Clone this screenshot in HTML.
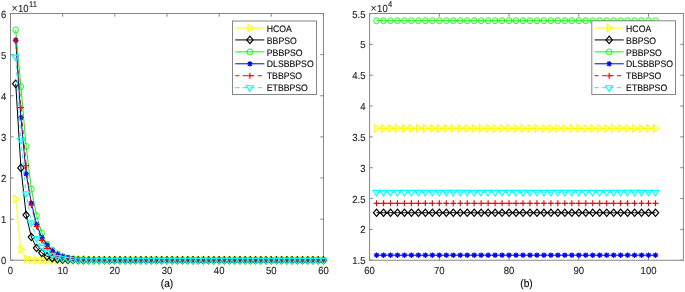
<!DOCTYPE html><html><head><meta charset="utf-8"><style>html,body{margin:0;padding:0;background:#fff;overflow:hidden}svg{display:block;text-rendering:geometricPrecision}text{stroke:#262626;stroke-width:0.12px}</style></head><body><svg width="685" height="292" viewBox="0 0 685 292" font-family="'Liberation Sans', Arial, sans-serif">
<rect width="685" height="292" fill="#fff"/>
<defs>
<clipPath id="cl"><rect x="10.5" y="13.5" width="312.95" height="246.75"/></clipPath>
<clipPath id="cr"><rect x="369.6" y="13.5" width="313.80" height="246.75"/></clipPath>
</defs><g>
<g stroke="#868686" stroke-width="1" fill="none">
<rect x="10.5" y="13.5" width="312.95" height="246.75"/>
<path d="M10.50 260.25v-3.2M10.50 13.5v3.2M62.66 260.25v-3.2M62.66 13.5v3.2M114.82 260.25v-3.2M114.82 13.5v3.2M166.97 260.25v-3.2M166.97 13.5v3.2M219.13 260.25v-3.2M219.13 13.5v3.2M271.29 260.25v-3.2M271.29 13.5v3.2M323.45 260.25v-3.2M323.45 13.5v3.2M10.5 260.25h3.2M323.45 260.25h-3.2M10.5 219.12h3.2M323.45 219.12h-3.2M10.5 178.00h3.2M323.45 178.00h-3.2M10.5 136.88h3.2M323.45 136.88h-3.2M10.5 95.75h3.2M323.45 95.75h-3.2M10.5 54.62h3.2M323.45 54.62h-3.2M10.5 13.50h3.2M323.45 13.50h-3.2"/>
</g>
<g fill="#262626" font-size="9.5px">
<text transform="translate(10.50 274.25) scale(1.0 1.08)" text-anchor="middle">0</text>
<text transform="translate(62.66 274.25) scale(1.0 1.08)" text-anchor="middle">10</text>
<text transform="translate(114.82 274.25) scale(1.0 1.08)" text-anchor="middle">20</text>
<text transform="translate(166.97 274.25) scale(1.0 1.08)" text-anchor="middle">30</text>
<text transform="translate(219.13 274.25) scale(1.0 1.08)" text-anchor="middle">40</text>
<text transform="translate(271.29 274.25) scale(1.0 1.08)" text-anchor="middle">50</text>
<text transform="translate(323.45 274.25) scale(1.0 1.08)" text-anchor="middle">60</text>
<text transform="translate(6.40 264.25) scale(1.0 1.08)" text-anchor="end">0</text>
<text transform="translate(6.40 223.12) scale(1.0 1.08)" text-anchor="end">1</text>
<text transform="translate(6.40 182.00) scale(1.0 1.08)" text-anchor="end">2</text>
<text transform="translate(6.40 140.88) scale(1.0 1.08)" text-anchor="end">3</text>
<text transform="translate(6.40 99.75) scale(1.0 1.08)" text-anchor="end">4</text>
<text transform="translate(6.40 58.62) scale(1.0 1.08)" text-anchor="end">5</text>
<text transform="translate(6.40 17.50) scale(1.0 1.08)" text-anchor="end">6</text>
</g>
<g stroke="#868686" stroke-width="1" fill="none">
<rect x="369.6" y="13.5" width="313.80" height="246.75"/>
<path d="M369.60 260.25v-3.2M369.60 13.5v3.2M439.33 260.25v-3.2M439.33 13.5v3.2M509.07 260.25v-3.2M509.07 13.5v3.2M578.80 260.25v-3.2M578.80 13.5v3.2M648.53 260.25v-3.2M648.53 13.5v3.2M369.6 260.25h3.2M683.4 260.25h-3.2M369.6 229.41h3.2M683.4 229.41h-3.2M369.6 198.56h3.2M683.4 198.56h-3.2M369.6 167.72h3.2M683.4 167.72h-3.2M369.6 136.88h3.2M683.4 136.88h-3.2M369.6 106.03h3.2M683.4 106.03h-3.2M369.6 75.19h3.2M683.4 75.19h-3.2M369.6 44.34h3.2M683.4 44.34h-3.2M369.6 13.50h3.2M683.4 13.50h-3.2"/>
</g>
<g fill="#262626" font-size="9.5px">
<text transform="translate(369.60 274.25) scale(1.0 1.08)" text-anchor="middle">60</text>
<text transform="translate(439.33 274.25) scale(1.0 1.08)" text-anchor="middle">70</text>
<text transform="translate(509.07 274.25) scale(1.0 1.08)" text-anchor="middle">80</text>
<text transform="translate(578.80 274.25) scale(1.0 1.08)" text-anchor="middle">90</text>
<text transform="translate(648.53 274.25) scale(1.0 1.08)" text-anchor="middle">100</text>
<text transform="translate(365.50 264.25) scale(1.0 1.08)" text-anchor="end">1.5</text>
<text transform="translate(365.50 233.41) scale(1.0 1.08)" text-anchor="end">2</text>
<text transform="translate(365.50 202.56) scale(1.0 1.08)" text-anchor="end">2.5</text>
<text transform="translate(365.50 171.72) scale(1.0 1.08)" text-anchor="end">3</text>
<text transform="translate(365.50 140.88) scale(1.0 1.08)" text-anchor="end">3.5</text>
<text transform="translate(365.50 110.03) scale(1.0 1.08)" text-anchor="end">4</text>
<text transform="translate(365.50 79.19) scale(1.0 1.08)" text-anchor="end">4.5</text>
<text transform="translate(365.50 48.34) scale(1.0 1.08)" text-anchor="end">5</text>
<text transform="translate(365.50 17.50) scale(1.0 1.08)" text-anchor="end">5.5</text>
</g>
<polyline points="15.72,198.97 20.93,249.56 26.15,258.61 31.36,259.84 36.58,260.13 41.80,260.18 47.01,260.21 52.23,260.22 57.44,260.23 62.66,260.24 67.87,260.24 73.09,260.25 78.31,260.25 83.52,260.25 88.74,260.25 93.95,260.25 99.17,260.25 104.38,260.25 109.60,260.25 114.82,260.25 120.03,260.25 125.25,260.25 130.46,260.25 135.68,260.25 140.90,260.25 146.11,260.25 151.33,260.25 156.54,260.25 161.76,260.25 166.97,260.25 172.19,260.25 177.41,260.25 182.62,260.25 187.84,260.25 193.05,260.25 198.27,260.25 203.49,260.25 208.70,260.25 213.92,260.25 219.13,260.25 224.35,260.25 229.56,260.25 234.78,260.25 240.00,260.25 245.21,260.25 250.43,260.25 255.64,260.25 260.86,260.25 266.08,260.25 271.29,260.25 276.51,260.25 281.72,260.25 286.94,260.25 292.15,260.25 297.37,260.25 302.59,260.25 307.80,260.25 313.02,260.25 318.23,260.25 323.45,260.25" fill="none" stroke="#ffff00" stroke-width="1.0" clip-path="url(#cl)"/>
<g fill="none" stroke="#ffff00" stroke-width="1.15">
<path d="M13.87 195.27L19.42 198.97L13.87 202.67Z"/>
<path d="M19.08 245.86L24.63 249.56L19.08 253.26Z"/>
<path d="M24.30 254.91L29.85 258.61L24.30 262.31Z"/>
<path d="M29.51 256.14L35.06 259.84L29.51 263.54Z"/>
<path d="M34.73 256.43L40.28 260.13L34.73 263.83Z"/>
<path d="M39.95 256.48L45.50 260.18L39.95 263.88Z"/>
<path d="M45.16 256.51L50.71 260.21L45.16 263.91Z"/>
<path d="M50.38 256.52L55.93 260.22L50.38 263.92Z"/>
<path d="M55.59 256.53L61.14 260.23L55.59 263.93Z"/>
<path d="M60.81 256.54L66.36 260.24L60.81 263.94Z"/>
<path d="M66.02 256.54L71.57 260.24L66.02 263.94Z"/>
<path d="M71.24 256.55L76.79 260.25L71.24 263.95Z"/>
<path d="M76.46 256.55L82.01 260.25L76.46 263.95Z"/>
<path d="M81.67 256.55L87.22 260.25L81.67 263.95Z"/>
<path d="M86.89 256.55L92.44 260.25L86.89 263.95Z"/>
<path d="M92.10 256.55L97.65 260.25L92.10 263.95Z"/>
<path d="M97.32 256.55L102.87 260.25L97.32 263.95Z"/>
<path d="M102.53 256.55L108.08 260.25L102.53 263.95Z"/>
<path d="M107.75 256.55L113.30 260.25L107.75 263.95Z"/>
<path d="M112.97 256.55L118.52 260.25L112.97 263.95Z"/>
<path d="M118.18 256.55L123.73 260.25L118.18 263.95Z"/>
<path d="M123.40 256.55L128.95 260.25L123.40 263.95Z"/>
<path d="M128.61 256.55L134.16 260.25L128.61 263.95Z"/>
<path d="M133.83 256.55L139.38 260.25L133.83 263.95Z"/>
<path d="M139.05 256.55L144.60 260.25L139.05 263.95Z"/>
<path d="M144.26 256.55L149.81 260.25L144.26 263.95Z"/>
<path d="M149.48 256.55L155.03 260.25L149.48 263.95Z"/>
<path d="M154.69 256.55L160.24 260.25L154.69 263.95Z"/>
<path d="M159.91 256.55L165.46 260.25L159.91 263.95Z"/>
<path d="M165.12 256.55L170.67 260.25L165.12 263.95Z"/>
<path d="M170.34 256.55L175.89 260.25L170.34 263.95Z"/>
<path d="M175.56 256.55L181.11 260.25L175.56 263.95Z"/>
<path d="M180.77 256.55L186.32 260.25L180.77 263.95Z"/>
<path d="M185.99 256.55L191.54 260.25L185.99 263.95Z"/>
<path d="M191.20 256.55L196.75 260.25L191.20 263.95Z"/>
<path d="M196.42 256.55L201.97 260.25L196.42 263.95Z"/>
<path d="M201.64 256.55L207.19 260.25L201.64 263.95Z"/>
<path d="M206.85 256.55L212.40 260.25L206.85 263.95Z"/>
<path d="M212.07 256.55L217.62 260.25L212.07 263.95Z"/>
<path d="M217.28 256.55L222.83 260.25L217.28 263.95Z"/>
<path d="M222.50 256.55L228.05 260.25L222.50 263.95Z"/>
<path d="M227.71 256.55L233.26 260.25L227.71 263.95Z"/>
<path d="M232.93 256.55L238.48 260.25L232.93 263.95Z"/>
<path d="M238.15 256.55L243.70 260.25L238.15 263.95Z"/>
<path d="M243.36 256.55L248.91 260.25L243.36 263.95Z"/>
<path d="M248.58 256.55L254.13 260.25L248.58 263.95Z"/>
<path d="M253.79 256.55L259.34 260.25L253.79 263.95Z"/>
<path d="M259.01 256.55L264.56 260.25L259.01 263.95Z"/>
<path d="M264.23 256.55L269.78 260.25L264.23 263.95Z"/>
<path d="M269.44 256.55L274.99 260.25L269.44 263.95Z"/>
<path d="M274.66 256.55L280.21 260.25L274.66 263.95Z"/>
<path d="M279.87 256.55L285.42 260.25L279.87 263.95Z"/>
<path d="M285.09 256.55L290.64 260.25L285.09 263.95Z"/>
<path d="M290.30 256.55L295.85 260.25L290.30 263.95Z"/>
<path d="M295.52 256.55L301.07 260.25L295.52 263.95Z"/>
<path d="M300.74 256.55L306.29 260.25L300.74 263.95Z"/>
<path d="M305.95 256.55L311.50 260.25L305.95 263.95Z"/>
<path d="M311.17 256.55L316.72 260.25L311.17 263.95Z"/>
<path d="M316.38 256.55L321.93 260.25L316.38 263.95Z"/>
<path d="M321.60 256.55L327.15 260.25L321.60 263.95Z"/>
</g>
<polyline points="15.72,83.82 20.93,167.92 26.15,215.01 31.36,237.01 36.58,248.04 41.80,252.85 47.01,256.34 52.23,258.19 57.44,259.18 62.66,259.67 67.87,259.90 73.09,260.04 78.31,260.13 83.52,260.18 88.74,260.21 93.95,260.22 99.17,260.23 104.38,260.24 109.60,260.24 114.82,260.25 120.03,260.25 125.25,260.25 130.46,260.25 135.68,260.25 140.90,260.25 146.11,260.25 151.33,260.25 156.54,260.25 161.76,260.25 166.97,260.25 172.19,260.25 177.41,260.25 182.62,260.25 187.84,260.25 193.05,260.25 198.27,260.25 203.49,260.25 208.70,260.25 213.92,260.25 219.13,260.25 224.35,260.25 229.56,260.25 234.78,260.25 240.00,260.25 245.21,260.25 250.43,260.25 255.64,260.25 260.86,260.25 266.08,260.25 271.29,260.25 276.51,260.25 281.72,260.25 286.94,260.25 292.15,260.25 297.37,260.25 302.59,260.25 307.80,260.25 313.02,260.25 318.23,260.25 323.45,260.25" fill="none" stroke="#000000" stroke-width="1.0" clip-path="url(#cl)"/>
<g fill="none" stroke="#000000" stroke-width="1.15">
<path d="M15.72 80.12L18.92 83.82L15.72 87.52L12.52 83.82Z"/>
<path d="M20.93 164.22L24.13 167.92L20.93 171.62L17.73 167.92Z"/>
<path d="M26.15 211.31L29.35 215.01L26.15 218.71L22.95 215.01Z"/>
<path d="M31.36 233.31L34.56 237.01L31.36 240.71L28.16 237.01Z"/>
<path d="M36.58 244.34L39.78 248.04L36.58 251.74L33.38 248.04Z"/>
<path d="M41.80 249.15L45.00 252.85L41.80 256.55L38.59 252.85Z"/>
<path d="M47.01 252.64L50.21 256.34L47.01 260.04L43.81 256.34Z"/>
<path d="M52.23 254.49L55.43 258.19L52.23 261.89L49.03 258.19Z"/>
<path d="M57.44 255.48L60.64 259.18L57.44 262.88L54.24 259.18Z"/>
<path d="M62.66 255.97L65.86 259.67L62.66 263.37L59.46 259.67Z"/>
<path d="M67.87 256.20L71.07 259.90L67.87 263.60L64.67 259.90Z"/>
<path d="M73.09 256.34L76.29 260.04L73.09 263.74L69.89 260.04Z"/>
<path d="M78.31 256.43L81.51 260.13L78.31 263.83L75.11 260.13Z"/>
<path d="M83.52 256.48L86.72 260.18L83.52 263.88L80.32 260.18Z"/>
<path d="M88.74 256.51L91.94 260.21L88.74 263.91L85.54 260.21Z"/>
<path d="M93.95 256.52L97.15 260.22L93.95 263.92L90.75 260.22Z"/>
<path d="M99.17 256.53L102.37 260.23L99.17 263.93L95.97 260.23Z"/>
<path d="M104.38 256.54L107.58 260.24L104.38 263.94L101.18 260.24Z"/>
<path d="M109.60 256.54L112.80 260.24L109.60 263.94L106.40 260.24Z"/>
<path d="M114.82 256.55L118.02 260.25L114.82 263.95L111.62 260.25Z"/>
<path d="M120.03 256.55L123.23 260.25L120.03 263.95L116.83 260.25Z"/>
<path d="M125.25 256.55L128.45 260.25L125.25 263.95L122.05 260.25Z"/>
<path d="M130.46 256.55L133.66 260.25L130.46 263.95L127.26 260.25Z"/>
<path d="M135.68 256.55L138.88 260.25L135.68 263.95L132.48 260.25Z"/>
<path d="M140.90 256.55L144.10 260.25L140.90 263.95L137.70 260.25Z"/>
<path d="M146.11 256.55L149.31 260.25L146.11 263.95L142.91 260.25Z"/>
<path d="M151.33 256.55L154.53 260.25L151.33 263.95L148.13 260.25Z"/>
<path d="M156.54 256.55L159.74 260.25L156.54 263.95L153.34 260.25Z"/>
<path d="M161.76 256.55L164.96 260.25L161.76 263.95L158.56 260.25Z"/>
<path d="M166.97 256.55L170.17 260.25L166.97 263.95L163.78 260.25Z"/>
<path d="M172.19 256.55L175.39 260.25L172.19 263.95L168.99 260.25Z"/>
<path d="M177.41 256.55L180.61 260.25L177.41 263.95L174.21 260.25Z"/>
<path d="M182.62 256.55L185.82 260.25L182.62 263.95L179.42 260.25Z"/>
<path d="M187.84 256.55L191.04 260.25L187.84 263.95L184.64 260.25Z"/>
<path d="M193.05 256.55L196.25 260.25L193.05 263.95L189.85 260.25Z"/>
<path d="M198.27 256.55L201.47 260.25L198.27 263.95L195.07 260.25Z"/>
<path d="M203.49 256.55L206.69 260.25L203.49 263.95L200.29 260.25Z"/>
<path d="M208.70 256.55L211.90 260.25L208.70 263.95L205.50 260.25Z"/>
<path d="M213.92 256.55L217.12 260.25L213.92 263.95L210.72 260.25Z"/>
<path d="M219.13 256.55L222.33 260.25L219.13 263.95L215.93 260.25Z"/>
<path d="M224.35 256.55L227.55 260.25L224.35 263.95L221.15 260.25Z"/>
<path d="M229.56 256.55L232.76 260.25L229.56 263.95L226.36 260.25Z"/>
<path d="M234.78 256.55L237.98 260.25L234.78 263.95L231.58 260.25Z"/>
<path d="M240.00 256.55L243.20 260.25L240.00 263.95L236.80 260.25Z"/>
<path d="M245.21 256.55L248.41 260.25L245.21 263.95L242.01 260.25Z"/>
<path d="M250.43 256.55L253.63 260.25L250.43 263.95L247.23 260.25Z"/>
<path d="M255.64 256.55L258.84 260.25L255.64 263.95L252.44 260.25Z"/>
<path d="M260.86 256.55L264.06 260.25L260.86 263.95L257.66 260.25Z"/>
<path d="M266.08 256.55L269.28 260.25L266.08 263.95L262.88 260.25Z"/>
<path d="M271.29 256.55L274.49 260.25L271.29 263.95L268.09 260.25Z"/>
<path d="M276.51 256.55L279.71 260.25L276.51 263.95L273.31 260.25Z"/>
<path d="M281.72 256.55L284.92 260.25L281.72 263.95L278.52 260.25Z"/>
<path d="M286.94 256.55L290.14 260.25L286.94 263.95L283.74 260.25Z"/>
<path d="M292.15 256.55L295.35 260.25L292.15 263.95L288.95 260.25Z"/>
<path d="M297.37 256.55L300.57 260.25L297.37 263.95L294.17 260.25Z"/>
<path d="M302.59 256.55L305.79 260.25L302.59 263.95L299.39 260.25Z"/>
<path d="M307.80 256.55L311.00 260.25L307.80 263.95L304.60 260.25Z"/>
<path d="M313.02 256.55L316.22 260.25L313.02 263.95L309.82 260.25Z"/>
<path d="M318.23 256.55L321.43 260.25L318.23 263.95L315.03 260.25Z"/>
<path d="M323.45 256.55L326.65 260.25L323.45 263.95L320.25 260.25Z"/>
</g>
<polyline points="15.72,29.95 20.93,86.70 26.15,146.33 31.36,189.10 36.58,215.63 41.80,232.90 47.01,244.21 52.23,249.97 57.44,253.88 62.66,256.55 67.87,257.99 73.09,259.02 78.31,259.51 83.52,259.81 88.74,259.98 93.95,260.09 99.17,260.15 104.38,260.19 109.60,260.22 114.82,260.23 120.03,260.24 125.25,260.24 130.46,260.25 135.68,260.25 140.90,260.25 146.11,260.25 151.33,260.25 156.54,260.25 161.76,260.25 166.97,260.25 172.19,260.25 177.41,260.25 182.62,260.25 187.84,260.25 193.05,260.25 198.27,260.25 203.49,260.25 208.70,260.25 213.92,260.25 219.13,260.25 224.35,260.25 229.56,260.25 234.78,260.25 240.00,260.25 245.21,260.25 250.43,260.25 255.64,260.25 260.86,260.25 266.08,260.25 271.29,260.25 276.51,260.25 281.72,260.25 286.94,260.25 292.15,260.25 297.37,260.25 302.59,260.25 307.80,260.25 313.02,260.25 318.23,260.25 323.45,260.25" fill="none" stroke="#00ff00" stroke-width="1.0" clip-path="url(#cl)"/>
<g fill="none" stroke="#00ff00" stroke-width="1.15">
<ellipse cx="15.72" cy="29.95" rx="2.8" ry="3.0" stroke-width="0.9"/>
<ellipse cx="20.93" cy="86.70" rx="2.8" ry="3.0" stroke-width="0.9"/>
<ellipse cx="26.15" cy="146.33" rx="2.8" ry="3.0" stroke-width="0.9"/>
<ellipse cx="31.36" cy="189.10" rx="2.8" ry="3.0" stroke-width="0.9"/>
<ellipse cx="36.58" cy="215.63" rx="2.8" ry="3.0" stroke-width="0.9"/>
<ellipse cx="41.80" cy="232.90" rx="2.8" ry="3.0" stroke-width="0.9"/>
<ellipse cx="47.01" cy="244.21" rx="2.8" ry="3.0" stroke-width="0.9"/>
<ellipse cx="52.23" cy="249.97" rx="2.8" ry="3.0" stroke-width="0.9"/>
<ellipse cx="57.44" cy="253.88" rx="2.8" ry="3.0" stroke-width="0.9"/>
<ellipse cx="62.66" cy="256.55" rx="2.8" ry="3.0" stroke-width="0.9"/>
<ellipse cx="67.87" cy="257.99" rx="2.8" ry="3.0" stroke-width="0.9"/>
<ellipse cx="73.09" cy="259.02" rx="2.8" ry="3.0" stroke-width="0.9"/>
<ellipse cx="78.31" cy="259.51" rx="2.8" ry="3.0" stroke-width="0.9"/>
<ellipse cx="83.52" cy="259.81" rx="2.8" ry="3.0" stroke-width="0.9"/>
<ellipse cx="88.74" cy="259.98" rx="2.8" ry="3.0" stroke-width="0.9"/>
<ellipse cx="93.95" cy="260.09" rx="2.8" ry="3.0" stroke-width="0.9"/>
<ellipse cx="99.17" cy="260.15" rx="2.8" ry="3.0" stroke-width="0.9"/>
<ellipse cx="104.38" cy="260.19" rx="2.8" ry="3.0" stroke-width="0.9"/>
<ellipse cx="109.60" cy="260.22" rx="2.8" ry="3.0" stroke-width="0.9"/>
<ellipse cx="114.82" cy="260.23" rx="2.8" ry="3.0" stroke-width="0.9"/>
<ellipse cx="120.03" cy="260.24" rx="2.8" ry="3.0" stroke-width="0.9"/>
<ellipse cx="125.25" cy="260.24" rx="2.8" ry="3.0" stroke-width="0.9"/>
<ellipse cx="130.46" cy="260.25" rx="2.8" ry="3.0" stroke-width="0.9"/>
<ellipse cx="135.68" cy="260.25" rx="2.8" ry="3.0" stroke-width="0.9"/>
<ellipse cx="140.90" cy="260.25" rx="2.8" ry="3.0" stroke-width="0.9"/>
<ellipse cx="146.11" cy="260.25" rx="2.8" ry="3.0" stroke-width="0.9"/>
<ellipse cx="151.33" cy="260.25" rx="2.8" ry="3.0" stroke-width="0.9"/>
<ellipse cx="156.54" cy="260.25" rx="2.8" ry="3.0" stroke-width="0.9"/>
<ellipse cx="161.76" cy="260.25" rx="2.8" ry="3.0" stroke-width="0.9"/>
<ellipse cx="166.97" cy="260.25" rx="2.8" ry="3.0" stroke-width="0.9"/>
<ellipse cx="172.19" cy="260.25" rx="2.8" ry="3.0" stroke-width="0.9"/>
<ellipse cx="177.41" cy="260.25" rx="2.8" ry="3.0" stroke-width="0.9"/>
<ellipse cx="182.62" cy="260.25" rx="2.8" ry="3.0" stroke-width="0.9"/>
<ellipse cx="187.84" cy="260.25" rx="2.8" ry="3.0" stroke-width="0.9"/>
<ellipse cx="193.05" cy="260.25" rx="2.8" ry="3.0" stroke-width="0.9"/>
<ellipse cx="198.27" cy="260.25" rx="2.8" ry="3.0" stroke-width="0.9"/>
<ellipse cx="203.49" cy="260.25" rx="2.8" ry="3.0" stroke-width="0.9"/>
<ellipse cx="208.70" cy="260.25" rx="2.8" ry="3.0" stroke-width="0.9"/>
<ellipse cx="213.92" cy="260.25" rx="2.8" ry="3.0" stroke-width="0.9"/>
<ellipse cx="219.13" cy="260.25" rx="2.8" ry="3.0" stroke-width="0.9"/>
<ellipse cx="224.35" cy="260.25" rx="2.8" ry="3.0" stroke-width="0.9"/>
<ellipse cx="229.56" cy="260.25" rx="2.8" ry="3.0" stroke-width="0.9"/>
<ellipse cx="234.78" cy="260.25" rx="2.8" ry="3.0" stroke-width="0.9"/>
<ellipse cx="240.00" cy="260.25" rx="2.8" ry="3.0" stroke-width="0.9"/>
<ellipse cx="245.21" cy="260.25" rx="2.8" ry="3.0" stroke-width="0.9"/>
<ellipse cx="250.43" cy="260.25" rx="2.8" ry="3.0" stroke-width="0.9"/>
<ellipse cx="255.64" cy="260.25" rx="2.8" ry="3.0" stroke-width="0.9"/>
<ellipse cx="260.86" cy="260.25" rx="2.8" ry="3.0" stroke-width="0.9"/>
<ellipse cx="266.08" cy="260.25" rx="2.8" ry="3.0" stroke-width="0.9"/>
<ellipse cx="271.29" cy="260.25" rx="2.8" ry="3.0" stroke-width="0.9"/>
<ellipse cx="276.51" cy="260.25" rx="2.8" ry="3.0" stroke-width="0.9"/>
<ellipse cx="281.72" cy="260.25" rx="2.8" ry="3.0" stroke-width="0.9"/>
<ellipse cx="286.94" cy="260.25" rx="2.8" ry="3.0" stroke-width="0.9"/>
<ellipse cx="292.15" cy="260.25" rx="2.8" ry="3.0" stroke-width="0.9"/>
<ellipse cx="297.37" cy="260.25" rx="2.8" ry="3.0" stroke-width="0.9"/>
<ellipse cx="302.59" cy="260.25" rx="2.8" ry="3.0" stroke-width="0.9"/>
<ellipse cx="307.80" cy="260.25" rx="2.8" ry="3.0" stroke-width="0.9"/>
<ellipse cx="313.02" cy="260.25" rx="2.8" ry="3.0" stroke-width="0.9"/>
<ellipse cx="318.23" cy="260.25" rx="2.8" ry="3.0" stroke-width="0.9"/>
<ellipse cx="323.45" cy="260.25" rx="2.8" ry="3.0" stroke-width="0.9"/>
</g>
<polyline points="15.72,40.23 20.93,117.55 26.15,173.89 31.36,203.09 36.58,224.47 41.80,237.63 47.01,244.83 52.23,250.59 57.44,254.08 62.66,256.34 67.87,257.78 73.09,258.81 78.31,259.43 83.52,259.76 88.74,259.95 93.95,260.07 99.17,260.14 104.38,260.19 109.60,260.21 114.82,260.23 120.03,260.24 125.25,260.24 130.46,260.25 135.68,260.25 140.90,260.25 146.11,260.25 151.33,260.25 156.54,260.25 161.76,260.25 166.97,260.25 172.19,260.25 177.41,260.25 182.62,260.25 187.84,260.25 193.05,260.25 198.27,260.25 203.49,260.25 208.70,260.25 213.92,260.25 219.13,260.25 224.35,260.25 229.56,260.25 234.78,260.25 240.00,260.25 245.21,260.25 250.43,260.25 255.64,260.25 260.86,260.25 266.08,260.25 271.29,260.25 276.51,260.25 281.72,260.25 286.94,260.25 292.15,260.25 297.37,260.25 302.59,260.25 307.80,260.25 313.02,260.25 318.23,260.25 323.45,260.25" fill="none" stroke="#0000ff" stroke-width="1.0" clip-path="url(#cl)"/>
<g fill="none" stroke="#0000ff" stroke-width="1.15">
<path d="M13.02 40.23H18.42M15.72 37.53V42.93M13.72 38.23L17.72 42.23M13.72 42.23L17.72 38.23"/>
<path d="M18.23 117.55H23.63M20.93 114.85V120.25M18.93 115.55L22.93 119.55M18.93 119.55L22.93 115.55"/>
<path d="M23.45 173.89H28.85M26.15 171.19V176.59M24.15 171.89L28.15 175.89M24.15 175.89L28.15 171.89"/>
<path d="M28.66 203.09H34.06M31.36 200.39V205.79M29.36 201.09L33.36 205.09M29.36 205.09L33.36 201.09"/>
<path d="M33.88 224.47H39.28M36.58 221.77V227.17M34.58 222.47L38.58 226.47M34.58 226.47L38.58 222.47"/>
<path d="M39.09 237.63H44.50M41.80 234.93V240.33M39.80 235.63L43.80 239.63M39.80 239.63L43.80 235.63"/>
<path d="M44.31 244.83H49.71M47.01 242.13V247.53M45.01 242.83L49.01 246.83M45.01 246.83L49.01 242.83"/>
<path d="M49.53 250.59H54.93M52.23 247.89V253.29M50.23 248.59L54.23 252.59M50.23 252.59L54.23 248.59"/>
<path d="M54.74 254.08H60.14M57.44 251.38V256.78M55.44 252.08L59.44 256.08M55.44 256.08L59.44 252.08"/>
<path d="M59.96 256.34H65.36M62.66 253.64V259.04M60.66 254.34L64.66 258.34M60.66 258.34L64.66 254.34"/>
<path d="M65.17 257.78H70.57M67.87 255.08V260.48M65.87 255.78L69.87 259.78M65.87 259.78L69.87 255.78"/>
<path d="M70.39 258.81H75.79M73.09 256.11V261.51M71.09 256.81L75.09 260.81M71.09 260.81L75.09 256.81"/>
<path d="M75.61 259.43H81.01M78.31 256.73V262.13M76.31 257.43L80.31 261.43M76.31 261.43L80.31 257.43"/>
<path d="M80.82 259.76H86.22M83.52 257.06V262.46M81.52 257.76L85.52 261.76M81.52 261.76L85.52 257.76"/>
<path d="M86.04 259.95H91.44M88.74 257.25V262.65M86.74 257.95L90.74 261.95M86.74 261.95L90.74 257.95"/>
<path d="M91.25 260.07H96.65M93.95 257.37V262.77M91.95 258.07L95.95 262.07M91.95 262.07L95.95 258.07"/>
<path d="M96.47 260.14H101.87M99.17 257.44V262.84M97.17 258.14L101.17 262.14M97.17 262.14L101.17 258.14"/>
<path d="M101.68 260.19H107.08M104.38 257.49V262.89M102.38 258.19L106.38 262.19M102.38 262.19L106.38 258.19"/>
<path d="M106.90 260.21H112.30M109.60 257.51V262.91M107.60 258.21L111.60 262.21M107.60 262.21L111.60 258.21"/>
<path d="M112.12 260.23H117.52M114.82 257.53V262.93M112.82 258.23L116.82 262.23M112.82 262.23L116.82 258.23"/>
<path d="M117.33 260.24H122.73M120.03 257.54V262.94M118.03 258.24L122.03 262.24M118.03 262.24L122.03 258.24"/>
<path d="M122.55 260.24H127.95M125.25 257.54V262.94M123.25 258.24L127.25 262.24M123.25 262.24L127.25 258.24"/>
<path d="M127.76 260.25H133.16M130.46 257.55V262.95M128.46 258.25L132.46 262.25M128.46 262.25L132.46 258.25"/>
<path d="M132.98 260.25H138.38M135.68 257.55V262.95M133.68 258.25L137.68 262.25M133.68 262.25L137.68 258.25"/>
<path d="M138.20 260.25H143.60M140.90 257.55V262.95M138.90 258.25L142.90 262.25M138.90 262.25L142.90 258.25"/>
<path d="M143.41 260.25H148.81M146.11 257.55V262.95M144.11 258.25L148.11 262.25M144.11 262.25L148.11 258.25"/>
<path d="M148.63 260.25H154.03M151.33 257.55V262.95M149.33 258.25L153.33 262.25M149.33 262.25L153.33 258.25"/>
<path d="M153.84 260.25H159.24M156.54 257.55V262.95M154.54 258.25L158.54 262.25M154.54 262.25L158.54 258.25"/>
<path d="M159.06 260.25H164.46M161.76 257.55V262.95M159.76 258.25L163.76 262.25M159.76 262.25L163.76 258.25"/>
<path d="M164.28 260.25H169.67M166.97 257.55V262.95M164.97 258.25L168.97 262.25M164.97 262.25L168.97 258.25"/>
<path d="M169.49 260.25H174.89M172.19 257.55V262.95M170.19 258.25L174.19 262.25M170.19 262.25L174.19 258.25"/>
<path d="M174.71 260.25H180.11M177.41 257.55V262.95M175.41 258.25L179.41 262.25M175.41 262.25L179.41 258.25"/>
<path d="M179.92 260.25H185.32M182.62 257.55V262.95M180.62 258.25L184.62 262.25M180.62 262.25L184.62 258.25"/>
<path d="M185.14 260.25H190.54M187.84 257.55V262.95M185.84 258.25L189.84 262.25M185.84 262.25L189.84 258.25"/>
<path d="M190.35 260.25H195.75M193.05 257.55V262.95M191.05 258.25L195.05 262.25M191.05 262.25L195.05 258.25"/>
<path d="M195.57 260.25H200.97M198.27 257.55V262.95M196.27 258.25L200.27 262.25M196.27 262.25L200.27 258.25"/>
<path d="M200.79 260.25H206.19M203.49 257.55V262.95M201.49 258.25L205.49 262.25M201.49 262.25L205.49 258.25"/>
<path d="M206.00 260.25H211.40M208.70 257.55V262.95M206.70 258.25L210.70 262.25M206.70 262.25L210.70 258.25"/>
<path d="M211.22 260.25H216.62M213.92 257.55V262.95M211.92 258.25L215.92 262.25M211.92 262.25L215.92 258.25"/>
<path d="M216.43 260.25H221.83M219.13 257.55V262.95M217.13 258.25L221.13 262.25M217.13 262.25L221.13 258.25"/>
<path d="M221.65 260.25H227.05M224.35 257.55V262.95M222.35 258.25L226.35 262.25M222.35 262.25L226.35 258.25"/>
<path d="M226.86 260.25H232.26M229.56 257.55V262.95M227.56 258.25L231.56 262.25M227.56 262.25L231.56 258.25"/>
<path d="M232.08 260.25H237.48M234.78 257.55V262.95M232.78 258.25L236.78 262.25M232.78 262.25L236.78 258.25"/>
<path d="M237.30 260.25H242.70M240.00 257.55V262.95M238.00 258.25L242.00 262.25M238.00 262.25L242.00 258.25"/>
<path d="M242.51 260.25H247.91M245.21 257.55V262.95M243.21 258.25L247.21 262.25M243.21 262.25L247.21 258.25"/>
<path d="M247.73 260.25H253.13M250.43 257.55V262.95M248.43 258.25L252.43 262.25M248.43 262.25L252.43 258.25"/>
<path d="M252.94 260.25H258.34M255.64 257.55V262.95M253.64 258.25L257.64 262.25M253.64 262.25L257.64 258.25"/>
<path d="M258.16 260.25H263.56M260.86 257.55V262.95M258.86 258.25L262.86 262.25M258.86 262.25L262.86 258.25"/>
<path d="M263.38 260.25H268.78M266.08 257.55V262.95M264.08 258.25L268.08 262.25M264.08 262.25L268.08 258.25"/>
<path d="M268.59 260.25H273.99M271.29 257.55V262.95M269.29 258.25L273.29 262.25M269.29 262.25L273.29 258.25"/>
<path d="M273.81 260.25H279.21M276.51 257.55V262.95M274.51 258.25L278.51 262.25M274.51 262.25L278.51 258.25"/>
<path d="M279.02 260.25H284.42M281.72 257.55V262.95M279.72 258.25L283.72 262.25M279.72 262.25L283.72 258.25"/>
<path d="M284.24 260.25H289.64M286.94 257.55V262.95M284.94 258.25L288.94 262.25M284.94 262.25L288.94 258.25"/>
<path d="M289.45 260.25H294.85M292.15 257.55V262.95M290.15 258.25L294.15 262.25M290.15 262.25L294.15 258.25"/>
<path d="M294.67 260.25H300.07M297.37 257.55V262.95M295.37 258.25L299.37 262.25M295.37 262.25L299.37 258.25"/>
<path d="M299.89 260.25H305.29M302.59 257.55V262.95M300.59 258.25L304.59 262.25M300.59 262.25L304.59 258.25"/>
<path d="M305.10 260.25H310.50M307.80 257.55V262.95M305.80 258.25L309.80 262.25M305.80 262.25L309.80 258.25"/>
<path d="M310.32 260.25H315.72M313.02 257.55V262.95M311.02 258.25L315.02 262.25M311.02 262.25L315.02 258.25"/>
<path d="M315.53 260.25H320.93M318.23 257.55V262.95M316.23 258.25L320.23 262.25M316.23 262.25L320.23 258.25"/>
<path d="M320.75 260.25H326.15M323.45 257.55V262.95M321.45 258.25L325.45 262.25M321.45 262.25L325.45 258.25"/>
</g>
<polyline points="15.72,40.23 20.93,107.68 26.15,165.66 31.36,205.14 36.58,226.53 41.80,240.51 47.01,248.32 52.23,253.26 57.44,256.14 62.66,257.78 67.87,258.81 73.09,259.39 78.31,259.73 83.52,259.94 88.74,260.06 93.95,260.14 99.17,260.18 104.38,260.21 109.60,260.23 114.82,260.24 120.03,260.24 125.25,260.24 130.46,260.25 135.68,260.25 140.90,260.25 146.11,260.25 151.33,260.25 156.54,260.25 161.76,260.25 166.97,260.25 172.19,260.25 177.41,260.25 182.62,260.25 187.84,260.25 193.05,260.25 198.27,260.25 203.49,260.25 208.70,260.25 213.92,260.25 219.13,260.25 224.35,260.25 229.56,260.25 234.78,260.25 240.00,260.25 245.21,260.25 250.43,260.25 255.64,260.25 260.86,260.25 266.08,260.25 271.29,260.25 276.51,260.25 281.72,260.25 286.94,260.25 292.15,260.25 297.37,260.25 302.59,260.25 307.80,260.25 313.02,260.25 318.23,260.25 323.45,260.25" fill="none" stroke="#ff0000" stroke-width="1.0" stroke-dasharray="4.1 3.4" clip-path="url(#cl)"/>
<g fill="none" stroke="#ff0000" stroke-width="1.15">
<path d="M12.72 40.23H18.72M15.72 37.23V43.23"/>
<path d="M17.93 107.68H23.93M20.93 104.68V110.68"/>
<path d="M23.15 165.66H29.15M26.15 162.66V168.66"/>
<path d="M28.36 205.14H34.36M31.36 202.14V208.14"/>
<path d="M33.58 226.53H39.58M36.58 223.53V229.53"/>
<path d="M38.80 240.51H44.80M41.80 237.51V243.51"/>
<path d="M44.01 248.32H50.01M47.01 245.32V251.32"/>
<path d="M49.23 253.26H55.23M52.23 250.26V256.26"/>
<path d="M54.44 256.14H60.44M57.44 253.14V259.14"/>
<path d="M59.66 257.78H65.66M62.66 254.78V260.78"/>
<path d="M64.87 258.81H70.87M67.87 255.81V261.81"/>
<path d="M70.09 259.39H76.09M73.09 256.39V262.39"/>
<path d="M75.31 259.73H81.31M78.31 256.73V262.73"/>
<path d="M80.52 259.94H86.52M83.52 256.94V262.94"/>
<path d="M85.74 260.06H91.74M88.74 257.06V263.06"/>
<path d="M90.95 260.14H96.95M93.95 257.14V263.14"/>
<path d="M96.17 260.18H102.17M99.17 257.18V263.18"/>
<path d="M101.38 260.21H107.38M104.38 257.21V263.21"/>
<path d="M106.60 260.23H112.60M109.60 257.23V263.23"/>
<path d="M111.82 260.24H117.82M114.82 257.24V263.24"/>
<path d="M117.03 260.24H123.03M120.03 257.24V263.24"/>
<path d="M122.25 260.24H128.25M125.25 257.24V263.24"/>
<path d="M127.46 260.25H133.46M130.46 257.25V263.25"/>
<path d="M132.68 260.25H138.68M135.68 257.25V263.25"/>
<path d="M137.90 260.25H143.90M140.90 257.25V263.25"/>
<path d="M143.11 260.25H149.11M146.11 257.25V263.25"/>
<path d="M148.33 260.25H154.33M151.33 257.25V263.25"/>
<path d="M153.54 260.25H159.54M156.54 257.25V263.25"/>
<path d="M158.76 260.25H164.76M161.76 257.25V263.25"/>
<path d="M163.97 260.25H169.97M166.97 257.25V263.25"/>
<path d="M169.19 260.25H175.19M172.19 257.25V263.25"/>
<path d="M174.41 260.25H180.41M177.41 257.25V263.25"/>
<path d="M179.62 260.25H185.62M182.62 257.25V263.25"/>
<path d="M184.84 260.25H190.84M187.84 257.25V263.25"/>
<path d="M190.05 260.25H196.05M193.05 257.25V263.25"/>
<path d="M195.27 260.25H201.27M198.27 257.25V263.25"/>
<path d="M200.49 260.25H206.49M203.49 257.25V263.25"/>
<path d="M205.70 260.25H211.70M208.70 257.25V263.25"/>
<path d="M210.92 260.25H216.92M213.92 257.25V263.25"/>
<path d="M216.13 260.25H222.13M219.13 257.25V263.25"/>
<path d="M221.35 260.25H227.35M224.35 257.25V263.25"/>
<path d="M226.56 260.25H232.56M229.56 257.25V263.25"/>
<path d="M231.78 260.25H237.78M234.78 257.25V263.25"/>
<path d="M237.00 260.25H243.00M240.00 257.25V263.25"/>
<path d="M242.21 260.25H248.21M245.21 257.25V263.25"/>
<path d="M247.43 260.25H253.43M250.43 257.25V263.25"/>
<path d="M252.64 260.25H258.64M255.64 257.25V263.25"/>
<path d="M257.86 260.25H263.86M260.86 257.25V263.25"/>
<path d="M263.08 260.25H269.08M266.08 257.25V263.25"/>
<path d="M268.29 260.25H274.29M271.29 257.25V263.25"/>
<path d="M273.51 260.25H279.51M276.51 257.25V263.25"/>
<path d="M278.72 260.25H284.72M281.72 257.25V263.25"/>
<path d="M283.94 260.25H289.94M286.94 257.25V263.25"/>
<path d="M289.15 260.25H295.15M292.15 257.25V263.25"/>
<path d="M294.37 260.25H300.37M297.37 257.25V263.25"/>
<path d="M299.59 260.25H305.59M302.59 257.25V263.25"/>
<path d="M304.80 260.25H310.80M307.80 257.25V263.25"/>
<path d="M310.02 260.25H316.02M313.02 257.25V263.25"/>
<path d="M315.23 260.25H321.23M318.23 257.25V263.25"/>
<path d="M320.45 260.25H326.45M323.45 257.25V263.25"/>
</g>
<polyline points="15.72,57.09 20.93,140.17 26.15,193.63 31.36,222.83 36.58,238.45 41.80,247.09 47.01,252.03 52.23,255.31 57.44,257.37 62.66,258.61 67.87,259.22 73.09,259.63 78.31,259.88 83.52,260.03 88.74,260.12 93.95,260.17 99.17,260.20 104.38,260.22 109.60,260.23 114.82,260.24 120.03,260.24 125.25,260.25 130.46,260.25 135.68,260.25 140.90,260.25 146.11,260.25 151.33,260.25 156.54,260.25 161.76,260.25 166.97,260.25 172.19,260.25 177.41,260.25 182.62,260.25 187.84,260.25 193.05,260.25 198.27,260.25 203.49,260.25 208.70,260.25 213.92,260.25 219.13,260.25 224.35,260.25 229.56,260.25 234.78,260.25 240.00,260.25 245.21,260.25 250.43,260.25 255.64,260.25 260.86,260.25 266.08,260.25 271.29,260.25 276.51,260.25 281.72,260.25 286.94,260.25 292.15,260.25 297.37,260.25 302.59,260.25 307.80,260.25 313.02,260.25 318.23,260.25 323.45,260.25" fill="none" stroke="#00ffff" stroke-width="1.0" stroke-dasharray="4.1 3.4" clip-path="url(#cl)"/>
<g fill="none" stroke="#00ffff" stroke-width="1.15">
<path d="M12.22 55.19L19.22 55.19L15.72 60.79Z"/>
<path d="M17.43 138.27L24.43 138.27L20.93 143.87Z"/>
<path d="M22.65 191.73L29.65 191.73L26.15 197.33Z"/>
<path d="M27.86 220.93L34.86 220.93L31.36 226.53Z"/>
<path d="M33.08 236.55L40.08 236.55L36.58 242.15Z"/>
<path d="M38.30 245.19L45.30 245.19L41.80 250.79Z"/>
<path d="M43.51 250.12L50.51 250.12L47.01 255.72Z"/>
<path d="M48.73 253.41L55.73 253.41L52.23 259.01Z"/>
<path d="M53.94 255.47L60.94 255.47L57.44 261.07Z"/>
<path d="M59.16 256.71L66.16 256.71L62.66 262.31Z"/>
<path d="M64.37 257.32L71.37 257.32L67.87 262.92Z"/>
<path d="M69.59 257.73L76.59 257.73L73.09 263.33Z"/>
<path d="M74.81 257.98L81.81 257.98L78.31 263.58Z"/>
<path d="M80.02 258.13L87.02 258.13L83.52 263.73Z"/>
<path d="M85.24 258.22L92.24 258.22L88.74 263.82Z"/>
<path d="M90.45 258.27L97.45 258.27L93.95 263.87Z"/>
<path d="M95.67 258.30L102.67 258.30L99.17 263.90Z"/>
<path d="M100.88 258.32L107.88 258.32L104.38 263.92Z"/>
<path d="M106.10 258.33L113.10 258.33L109.60 263.93Z"/>
<path d="M111.32 258.34L118.32 258.34L114.82 263.94Z"/>
<path d="M116.53 258.34L123.53 258.34L120.03 263.94Z"/>
<path d="M121.75 258.35L128.75 258.35L125.25 263.95Z"/>
<path d="M126.96 258.35L133.96 258.35L130.46 263.95Z"/>
<path d="M132.18 258.35L139.18 258.35L135.68 263.95Z"/>
<path d="M137.40 258.35L144.40 258.35L140.90 263.95Z"/>
<path d="M142.61 258.35L149.61 258.35L146.11 263.95Z"/>
<path d="M147.83 258.35L154.83 258.35L151.33 263.95Z"/>
<path d="M153.04 258.35L160.04 258.35L156.54 263.95Z"/>
<path d="M158.26 258.35L165.26 258.35L161.76 263.95Z"/>
<path d="M163.47 258.35L170.47 258.35L166.97 263.95Z"/>
<path d="M168.69 258.35L175.69 258.35L172.19 263.95Z"/>
<path d="M173.91 258.35L180.91 258.35L177.41 263.95Z"/>
<path d="M179.12 258.35L186.12 258.35L182.62 263.95Z"/>
<path d="M184.34 258.35L191.34 258.35L187.84 263.95Z"/>
<path d="M189.55 258.35L196.55 258.35L193.05 263.95Z"/>
<path d="M194.77 258.35L201.77 258.35L198.27 263.95Z"/>
<path d="M199.99 258.35L206.99 258.35L203.49 263.95Z"/>
<path d="M205.20 258.35L212.20 258.35L208.70 263.95Z"/>
<path d="M210.42 258.35L217.42 258.35L213.92 263.95Z"/>
<path d="M215.63 258.35L222.63 258.35L219.13 263.95Z"/>
<path d="M220.85 258.35L227.85 258.35L224.35 263.95Z"/>
<path d="M226.06 258.35L233.06 258.35L229.56 263.95Z"/>
<path d="M231.28 258.35L238.28 258.35L234.78 263.95Z"/>
<path d="M236.50 258.35L243.50 258.35L240.00 263.95Z"/>
<path d="M241.71 258.35L248.71 258.35L245.21 263.95Z"/>
<path d="M246.93 258.35L253.93 258.35L250.43 263.95Z"/>
<path d="M252.14 258.35L259.14 258.35L255.64 263.95Z"/>
<path d="M257.36 258.35L264.36 258.35L260.86 263.95Z"/>
<path d="M262.58 258.35L269.58 258.35L266.08 263.95Z"/>
<path d="M267.79 258.35L274.79 258.35L271.29 263.95Z"/>
<path d="M273.01 258.35L280.01 258.35L276.51 263.95Z"/>
<path d="M278.22 258.35L285.22 258.35L281.72 263.95Z"/>
<path d="M283.44 258.35L290.44 258.35L286.94 263.95Z"/>
<path d="M288.65 258.35L295.65 258.35L292.15 263.95Z"/>
<path d="M293.87 258.35L300.87 258.35L297.37 263.95Z"/>
<path d="M299.09 258.35L306.09 258.35L302.59 263.95Z"/>
<path d="M304.30 258.35L311.30 258.35L307.80 263.95Z"/>
<path d="M309.52 258.35L316.52 258.35L313.02 263.95Z"/>
<path d="M314.73 258.35L321.73 258.35L318.23 263.95Z"/>
<path d="M319.95 258.35L326.95 258.35L323.45 263.95Z"/>
</g>
<polyline points="376.57,128.36 383.55,128.36 390.52,128.36 397.49,128.36 404.47,128.36 411.44,128.36 418.41,128.36 425.39,128.36 432.36,128.36 439.33,128.36 446.31,128.36 453.28,128.36 460.25,128.36 467.23,128.36 474.20,128.36 481.17,128.36 488.15,128.36 495.12,128.36 502.09,128.36 509.07,128.36 516.04,128.36 523.01,128.36 529.99,128.36 536.96,128.36 543.93,128.36 550.91,128.36 557.88,128.36 564.85,128.36 571.83,128.36 578.80,128.36 585.77,128.36 592.75,128.36 599.72,128.36 606.69,128.36 613.67,128.36 620.64,128.36 627.61,128.36 634.59,128.36 641.56,128.36 648.53,128.36 655.51,128.36" fill="none" stroke="#ffff00" stroke-width="1.0" clip-path="url(#cr)"/>
<g fill="none" stroke="#ffff00" stroke-width="1.15">
<path d="M374.72 124.66L380.27 128.36L374.72 132.06Z"/>
<path d="M381.70 124.66L387.25 128.36L381.70 132.06Z"/>
<path d="M388.67 124.66L394.22 128.36L388.67 132.06Z"/>
<path d="M395.64 124.66L401.19 128.36L395.64 132.06Z"/>
<path d="M402.62 124.66L408.17 128.36L402.62 132.06Z"/>
<path d="M409.59 124.66L415.14 128.36L409.59 132.06Z"/>
<path d="M416.56 124.66L422.11 128.36L416.56 132.06Z"/>
<path d="M423.54 124.66L429.09 128.36L423.54 132.06Z"/>
<path d="M430.51 124.66L436.06 128.36L430.51 132.06Z"/>
<path d="M437.48 124.66L443.03 128.36L437.48 132.06Z"/>
<path d="M444.46 124.66L450.01 128.36L444.46 132.06Z"/>
<path d="M451.43 124.66L456.98 128.36L451.43 132.06Z"/>
<path d="M458.40 124.66L463.95 128.36L458.40 132.06Z"/>
<path d="M465.38 124.66L470.93 128.36L465.38 132.06Z"/>
<path d="M472.35 124.66L477.90 128.36L472.35 132.06Z"/>
<path d="M479.32 124.66L484.87 128.36L479.32 132.06Z"/>
<path d="M486.30 124.66L491.85 128.36L486.30 132.06Z"/>
<path d="M493.27 124.66L498.82 128.36L493.27 132.06Z"/>
<path d="M500.24 124.66L505.79 128.36L500.24 132.06Z"/>
<path d="M507.22 124.66L512.77 128.36L507.22 132.06Z"/>
<path d="M514.19 124.66L519.74 128.36L514.19 132.06Z"/>
<path d="M521.16 124.66L526.71 128.36L521.16 132.06Z"/>
<path d="M528.14 124.66L533.69 128.36L528.14 132.06Z"/>
<path d="M535.11 124.66L540.66 128.36L535.11 132.06Z"/>
<path d="M542.08 124.66L547.63 128.36L542.08 132.06Z"/>
<path d="M549.06 124.66L554.61 128.36L549.06 132.06Z"/>
<path d="M556.03 124.66L561.58 128.36L556.03 132.06Z"/>
<path d="M563.00 124.66L568.55 128.36L563.00 132.06Z"/>
<path d="M569.98 124.66L575.53 128.36L569.98 132.06Z"/>
<path d="M576.95 124.66L582.50 128.36L576.95 132.06Z"/>
<path d="M583.92 124.66L589.47 128.36L583.92 132.06Z"/>
<path d="M590.90 124.66L596.45 128.36L590.90 132.06Z"/>
<path d="M597.87 124.66L603.42 128.36L597.87 132.06Z"/>
<path d="M604.84 124.66L610.39 128.36L604.84 132.06Z"/>
<path d="M611.82 124.66L617.37 128.36L611.82 132.06Z"/>
<path d="M618.79 124.66L624.34 128.36L618.79 132.06Z"/>
<path d="M625.76 124.66L631.31 128.36L625.76 132.06Z"/>
<path d="M632.74 124.66L638.29 128.36L632.74 132.06Z"/>
<path d="M639.71 124.66L645.26 128.36L639.71 132.06Z"/>
<path d="M646.68 124.66L652.23 128.36L646.68 132.06Z"/>
<path d="M653.66 124.66L659.21 128.36L653.66 132.06Z"/>
</g>
<polyline points="376.57,212.75 383.55,212.75 390.52,212.75 397.49,212.75 404.47,212.75 411.44,212.75 418.41,212.75 425.39,212.75 432.36,212.75 439.33,212.75 446.31,212.75 453.28,212.75 460.25,212.75 467.23,212.75 474.20,212.75 481.17,212.75 488.15,212.75 495.12,212.75 502.09,212.75 509.07,212.75 516.04,212.75 523.01,212.75 529.99,212.75 536.96,212.75 543.93,212.75 550.91,212.75 557.88,212.75 564.85,212.75 571.83,212.75 578.80,212.75 585.77,212.75 592.75,212.75 599.72,212.75 606.69,212.75 613.67,212.75 620.64,212.75 627.61,212.75 634.59,212.75 641.56,212.75 648.53,212.75 655.51,212.75" fill="none" stroke="#000000" stroke-width="1.0" clip-path="url(#cr)"/>
<g fill="none" stroke="#000000" stroke-width="1.15">
<path d="M376.57 209.05L379.77 212.75L376.57 216.45L373.37 212.75Z"/>
<path d="M383.55 209.05L386.75 212.75L383.55 216.45L380.35 212.75Z"/>
<path d="M390.52 209.05L393.72 212.75L390.52 216.45L387.32 212.75Z"/>
<path d="M397.49 209.05L400.69 212.75L397.49 216.45L394.29 212.75Z"/>
<path d="M404.47 209.05L407.67 212.75L404.47 216.45L401.27 212.75Z"/>
<path d="M411.44 209.05L414.64 212.75L411.44 216.45L408.24 212.75Z"/>
<path d="M418.41 209.05L421.61 212.75L418.41 216.45L415.21 212.75Z"/>
<path d="M425.39 209.05L428.59 212.75L425.39 216.45L422.19 212.75Z"/>
<path d="M432.36 209.05L435.56 212.75L432.36 216.45L429.16 212.75Z"/>
<path d="M439.33 209.05L442.53 212.75L439.33 216.45L436.13 212.75Z"/>
<path d="M446.31 209.05L449.51 212.75L446.31 216.45L443.11 212.75Z"/>
<path d="M453.28 209.05L456.48 212.75L453.28 216.45L450.08 212.75Z"/>
<path d="M460.25 209.05L463.45 212.75L460.25 216.45L457.05 212.75Z"/>
<path d="M467.23 209.05L470.43 212.75L467.23 216.45L464.03 212.75Z"/>
<path d="M474.20 209.05L477.40 212.75L474.20 216.45L471.00 212.75Z"/>
<path d="M481.17 209.05L484.37 212.75L481.17 216.45L477.97 212.75Z"/>
<path d="M488.15 209.05L491.35 212.75L488.15 216.45L484.95 212.75Z"/>
<path d="M495.12 209.05L498.32 212.75L495.12 216.45L491.92 212.75Z"/>
<path d="M502.09 209.05L505.29 212.75L502.09 216.45L498.89 212.75Z"/>
<path d="M509.07 209.05L512.27 212.75L509.07 216.45L505.87 212.75Z"/>
<path d="M516.04 209.05L519.24 212.75L516.04 216.45L512.84 212.75Z"/>
<path d="M523.01 209.05L526.21 212.75L523.01 216.45L519.81 212.75Z"/>
<path d="M529.99 209.05L533.19 212.75L529.99 216.45L526.79 212.75Z"/>
<path d="M536.96 209.05L540.16 212.75L536.96 216.45L533.76 212.75Z"/>
<path d="M543.93 209.05L547.13 212.75L543.93 216.45L540.73 212.75Z"/>
<path d="M550.91 209.05L554.11 212.75L550.91 216.45L547.71 212.75Z"/>
<path d="M557.88 209.05L561.08 212.75L557.88 216.45L554.68 212.75Z"/>
<path d="M564.85 209.05L568.05 212.75L564.85 216.45L561.65 212.75Z"/>
<path d="M571.83 209.05L575.03 212.75L571.83 216.45L568.63 212.75Z"/>
<path d="M578.80 209.05L582.00 212.75L578.80 216.45L575.60 212.75Z"/>
<path d="M585.77 209.05L588.97 212.75L585.77 216.45L582.57 212.75Z"/>
<path d="M592.75 209.05L595.95 212.75L592.75 216.45L589.55 212.75Z"/>
<path d="M599.72 209.05L602.92 212.75L599.72 216.45L596.52 212.75Z"/>
<path d="M606.69 209.05L609.89 212.75L606.69 216.45L603.49 212.75Z"/>
<path d="M613.67 209.05L616.87 212.75L613.67 216.45L610.47 212.75Z"/>
<path d="M620.64 209.05L623.84 212.75L620.64 216.45L617.44 212.75Z"/>
<path d="M627.61 209.05L630.81 212.75L627.61 216.45L624.41 212.75Z"/>
<path d="M634.59 209.05L637.79 212.75L634.59 216.45L631.39 212.75Z"/>
<path d="M641.56 209.05L644.76 212.75L641.56 216.45L638.36 212.75Z"/>
<path d="M648.53 209.05L651.73 212.75L648.53 216.45L645.33 212.75Z"/>
<path d="M655.51 209.05L658.71 212.75L655.51 216.45L652.31 212.75Z"/>
</g>
<polyline points="376.57,20.72 383.55,20.72 390.52,20.72 397.49,20.72 404.47,20.72 411.44,20.72 418.41,20.72 425.39,20.72 432.36,20.72 439.33,20.72 446.31,20.72 453.28,20.72 460.25,20.72 467.23,20.72 474.20,20.72 481.17,20.72 488.15,20.72 495.12,20.72 502.09,20.72 509.07,20.72 516.04,20.72 523.01,20.72 529.99,20.72 536.96,20.72 543.93,20.72 550.91,20.72 557.88,20.72 564.85,20.72 571.83,20.72 578.80,20.72 585.77,20.72 592.75,20.72 599.72,20.72 606.69,20.72 613.67,20.72 620.64,20.72 627.61,20.72 634.59,20.72 641.56,20.72 648.53,20.72 655.51,20.72" fill="none" stroke="#00ff00" stroke-width="1.0" clip-path="url(#cr)"/>
<g fill="none" stroke="#00ff00" stroke-width="1.15">
<ellipse cx="376.57" cy="20.72" rx="2.8" ry="3.0" stroke-width="0.9"/>
<ellipse cx="383.55" cy="20.72" rx="2.8" ry="3.0" stroke-width="0.9"/>
<ellipse cx="390.52" cy="20.72" rx="2.8" ry="3.0" stroke-width="0.9"/>
<ellipse cx="397.49" cy="20.72" rx="2.8" ry="3.0" stroke-width="0.9"/>
<ellipse cx="404.47" cy="20.72" rx="2.8" ry="3.0" stroke-width="0.9"/>
<ellipse cx="411.44" cy="20.72" rx="2.8" ry="3.0" stroke-width="0.9"/>
<ellipse cx="418.41" cy="20.72" rx="2.8" ry="3.0" stroke-width="0.9"/>
<ellipse cx="425.39" cy="20.72" rx="2.8" ry="3.0" stroke-width="0.9"/>
<ellipse cx="432.36" cy="20.72" rx="2.8" ry="3.0" stroke-width="0.9"/>
<ellipse cx="439.33" cy="20.72" rx="2.8" ry="3.0" stroke-width="0.9"/>
<ellipse cx="446.31" cy="20.72" rx="2.8" ry="3.0" stroke-width="0.9"/>
<ellipse cx="453.28" cy="20.72" rx="2.8" ry="3.0" stroke-width="0.9"/>
<ellipse cx="460.25" cy="20.72" rx="2.8" ry="3.0" stroke-width="0.9"/>
<ellipse cx="467.23" cy="20.72" rx="2.8" ry="3.0" stroke-width="0.9"/>
<ellipse cx="474.20" cy="20.72" rx="2.8" ry="3.0" stroke-width="0.9"/>
<ellipse cx="481.17" cy="20.72" rx="2.8" ry="3.0" stroke-width="0.9"/>
<ellipse cx="488.15" cy="20.72" rx="2.8" ry="3.0" stroke-width="0.9"/>
<ellipse cx="495.12" cy="20.72" rx="2.8" ry="3.0" stroke-width="0.9"/>
<ellipse cx="502.09" cy="20.72" rx="2.8" ry="3.0" stroke-width="0.9"/>
<ellipse cx="509.07" cy="20.72" rx="2.8" ry="3.0" stroke-width="0.9"/>
<ellipse cx="516.04" cy="20.72" rx="2.8" ry="3.0" stroke-width="0.9"/>
<ellipse cx="523.01" cy="20.72" rx="2.8" ry="3.0" stroke-width="0.9"/>
<ellipse cx="529.99" cy="20.72" rx="2.8" ry="3.0" stroke-width="0.9"/>
<ellipse cx="536.96" cy="20.72" rx="2.8" ry="3.0" stroke-width="0.9"/>
<ellipse cx="543.93" cy="20.72" rx="2.8" ry="3.0" stroke-width="0.9"/>
<ellipse cx="550.91" cy="20.72" rx="2.8" ry="3.0" stroke-width="0.9"/>
<ellipse cx="557.88" cy="20.72" rx="2.8" ry="3.0" stroke-width="0.9"/>
<ellipse cx="564.85" cy="20.72" rx="2.8" ry="3.0" stroke-width="0.9"/>
<ellipse cx="571.83" cy="20.72" rx="2.8" ry="3.0" stroke-width="0.9"/>
<ellipse cx="578.80" cy="20.72" rx="2.8" ry="3.0" stroke-width="0.9"/>
<ellipse cx="585.77" cy="20.72" rx="2.8" ry="3.0" stroke-width="0.9"/>
<ellipse cx="592.75" cy="20.72" rx="2.8" ry="3.0" stroke-width="0.9"/>
<ellipse cx="599.72" cy="20.72" rx="2.8" ry="3.0" stroke-width="0.9"/>
<ellipse cx="606.69" cy="20.72" rx="2.8" ry="3.0" stroke-width="0.9"/>
<ellipse cx="613.67" cy="20.72" rx="2.8" ry="3.0" stroke-width="0.9"/>
<ellipse cx="620.64" cy="20.72" rx="2.8" ry="3.0" stroke-width="0.9"/>
<ellipse cx="627.61" cy="20.72" rx="2.8" ry="3.0" stroke-width="0.9"/>
<ellipse cx="634.59" cy="20.72" rx="2.8" ry="3.0" stroke-width="0.9"/>
<ellipse cx="641.56" cy="20.72" rx="2.8" ry="3.0" stroke-width="0.9"/>
<ellipse cx="648.53" cy="20.72" rx="2.8" ry="3.0" stroke-width="0.9"/>
<ellipse cx="655.51" cy="20.72" rx="2.8" ry="3.0" stroke-width="0.9"/>
</g>
<polyline points="376.57,255.19 383.55,255.19 390.52,255.19 397.49,255.19 404.47,255.19 411.44,255.19 418.41,255.19 425.39,255.19 432.36,255.19 439.33,255.19 446.31,255.19 453.28,255.19 460.25,255.19 467.23,255.19 474.20,255.19 481.17,255.19 488.15,255.19 495.12,255.19 502.09,255.19 509.07,255.19 516.04,255.19 523.01,255.19 529.99,255.19 536.96,255.19 543.93,255.19 550.91,255.19 557.88,255.19 564.85,255.19 571.83,255.19 578.80,255.19 585.77,255.19 592.75,255.19 599.72,255.19 606.69,255.19 613.67,255.19 620.64,255.19 627.61,255.19 634.59,255.19 641.56,255.19 648.53,255.19 655.51,255.19" fill="none" stroke="#0000ff" stroke-width="1.0" clip-path="url(#cr)"/>
<g fill="none" stroke="#0000ff" stroke-width="1.15">
<path d="M373.87 255.19H379.27M376.57 252.49V257.89M374.57 253.19L378.57 257.19M374.57 257.19L378.57 253.19"/>
<path d="M380.85 255.19H386.25M383.55 252.49V257.89M381.55 253.19L385.55 257.19M381.55 257.19L385.55 253.19"/>
<path d="M387.82 255.19H393.22M390.52 252.49V257.89M388.52 253.19L392.52 257.19M388.52 257.19L392.52 253.19"/>
<path d="M394.79 255.19H400.19M397.49 252.49V257.89M395.49 253.19L399.49 257.19M395.49 257.19L399.49 253.19"/>
<path d="M401.77 255.19H407.17M404.47 252.49V257.89M402.47 253.19L406.47 257.19M402.47 257.19L406.47 253.19"/>
<path d="M408.74 255.19H414.14M411.44 252.49V257.89M409.44 253.19L413.44 257.19M409.44 257.19L413.44 253.19"/>
<path d="M415.71 255.19H421.11M418.41 252.49V257.89M416.41 253.19L420.41 257.19M416.41 257.19L420.41 253.19"/>
<path d="M422.69 255.19H428.09M425.39 252.49V257.89M423.39 253.19L427.39 257.19M423.39 257.19L427.39 253.19"/>
<path d="M429.66 255.19H435.06M432.36 252.49V257.89M430.36 253.19L434.36 257.19M430.36 257.19L434.36 253.19"/>
<path d="M436.63 255.19H442.03M439.33 252.49V257.89M437.33 253.19L441.33 257.19M437.33 257.19L441.33 253.19"/>
<path d="M443.61 255.19H449.01M446.31 252.49V257.89M444.31 253.19L448.31 257.19M444.31 257.19L448.31 253.19"/>
<path d="M450.58 255.19H455.98M453.28 252.49V257.89M451.28 253.19L455.28 257.19M451.28 257.19L455.28 253.19"/>
<path d="M457.55 255.19H462.95M460.25 252.49V257.89M458.25 253.19L462.25 257.19M458.25 257.19L462.25 253.19"/>
<path d="M464.53 255.19H469.93M467.23 252.49V257.89M465.23 253.19L469.23 257.19M465.23 257.19L469.23 253.19"/>
<path d="M471.50 255.19H476.90M474.20 252.49V257.89M472.20 253.19L476.20 257.19M472.20 257.19L476.20 253.19"/>
<path d="M478.47 255.19H483.87M481.17 252.49V257.89M479.17 253.19L483.17 257.19M479.17 257.19L483.17 253.19"/>
<path d="M485.45 255.19H490.85M488.15 252.49V257.89M486.15 253.19L490.15 257.19M486.15 257.19L490.15 253.19"/>
<path d="M492.42 255.19H497.82M495.12 252.49V257.89M493.12 253.19L497.12 257.19M493.12 257.19L497.12 253.19"/>
<path d="M499.39 255.19H504.79M502.09 252.49V257.89M500.09 253.19L504.09 257.19M500.09 257.19L504.09 253.19"/>
<path d="M506.37 255.19H511.77M509.07 252.49V257.89M507.07 253.19L511.07 257.19M507.07 257.19L511.07 253.19"/>
<path d="M513.34 255.19H518.74M516.04 252.49V257.89M514.04 253.19L518.04 257.19M514.04 257.19L518.04 253.19"/>
<path d="M520.31 255.19H525.71M523.01 252.49V257.89M521.01 253.19L525.01 257.19M521.01 257.19L525.01 253.19"/>
<path d="M527.29 255.19H532.69M529.99 252.49V257.89M527.99 253.19L531.99 257.19M527.99 257.19L531.99 253.19"/>
<path d="M534.26 255.19H539.66M536.96 252.49V257.89M534.96 253.19L538.96 257.19M534.96 257.19L538.96 253.19"/>
<path d="M541.23 255.19H546.63M543.93 252.49V257.89M541.93 253.19L545.93 257.19M541.93 257.19L545.93 253.19"/>
<path d="M548.21 255.19H553.61M550.91 252.49V257.89M548.91 253.19L552.91 257.19M548.91 257.19L552.91 253.19"/>
<path d="M555.18 255.19H560.58M557.88 252.49V257.89M555.88 253.19L559.88 257.19M555.88 257.19L559.88 253.19"/>
<path d="M562.15 255.19H567.55M564.85 252.49V257.89M562.85 253.19L566.85 257.19M562.85 257.19L566.85 253.19"/>
<path d="M569.13 255.19H574.53M571.83 252.49V257.89M569.83 253.19L573.83 257.19M569.83 257.19L573.83 253.19"/>
<path d="M576.10 255.19H581.50M578.80 252.49V257.89M576.80 253.19L580.80 257.19M576.80 257.19L580.80 253.19"/>
<path d="M583.07 255.19H588.47M585.77 252.49V257.89M583.77 253.19L587.77 257.19M583.77 257.19L587.77 253.19"/>
<path d="M590.05 255.19H595.45M592.75 252.49V257.89M590.75 253.19L594.75 257.19M590.75 257.19L594.75 253.19"/>
<path d="M597.02 255.19H602.42M599.72 252.49V257.89M597.72 253.19L601.72 257.19M597.72 257.19L601.72 253.19"/>
<path d="M603.99 255.19H609.39M606.69 252.49V257.89M604.69 253.19L608.69 257.19M604.69 257.19L608.69 253.19"/>
<path d="M610.97 255.19H616.37M613.67 252.49V257.89M611.67 253.19L615.67 257.19M611.67 257.19L615.67 253.19"/>
<path d="M617.94 255.19H623.34M620.64 252.49V257.89M618.64 253.19L622.64 257.19M618.64 257.19L622.64 253.19"/>
<path d="M624.91 255.19H630.31M627.61 252.49V257.89M625.61 253.19L629.61 257.19M625.61 257.19L629.61 253.19"/>
<path d="M631.89 255.19H637.29M634.59 252.49V257.89M632.59 253.19L636.59 257.19M632.59 257.19L636.59 253.19"/>
<path d="M638.86 255.19H644.26M641.56 252.49V257.89M639.56 253.19L643.56 257.19M639.56 257.19L643.56 253.19"/>
<path d="M645.83 255.19H651.23M648.53 252.49V257.89M646.53 253.19L650.53 257.19M646.53 257.19L650.53 253.19"/>
<path d="M652.81 255.19H658.21M655.51 252.49V257.89M653.51 253.19L657.51 257.19M653.51 257.19L657.51 253.19"/>
</g>
<polyline points="376.57,203.34 383.55,203.34 390.52,203.34 397.49,203.34 404.47,203.34 411.44,203.34 418.41,203.34 425.39,203.34 432.36,203.34 439.33,203.34 446.31,203.34 453.28,203.34 460.25,203.34 467.23,203.34 474.20,203.34 481.17,203.34 488.15,203.34 495.12,203.34 502.09,203.34 509.07,203.34 516.04,203.34 523.01,203.34 529.99,203.34 536.96,203.34 543.93,203.34 550.91,203.34 557.88,203.34 564.85,203.34 571.83,203.34 578.80,203.34 585.77,203.34 592.75,203.34 599.72,203.34 606.69,203.34 613.67,203.34 620.64,203.34 627.61,203.34 634.59,203.34 641.56,203.34 648.53,203.34 655.51,203.34" fill="none" stroke="#ff0000" stroke-width="1.0" stroke-dasharray="4.1 3.4" clip-path="url(#cr)"/>
<g fill="none" stroke="#ff0000" stroke-width="1.15">
<path d="M373.57 203.34H379.57M376.57 200.34V206.34"/>
<path d="M380.55 203.34H386.55M383.55 200.34V206.34"/>
<path d="M387.52 203.34H393.52M390.52 200.34V206.34"/>
<path d="M394.49 203.34H400.49M397.49 200.34V206.34"/>
<path d="M401.47 203.34H407.47M404.47 200.34V206.34"/>
<path d="M408.44 203.34H414.44M411.44 200.34V206.34"/>
<path d="M415.41 203.34H421.41M418.41 200.34V206.34"/>
<path d="M422.39 203.34H428.39M425.39 200.34V206.34"/>
<path d="M429.36 203.34H435.36M432.36 200.34V206.34"/>
<path d="M436.33 203.34H442.33M439.33 200.34V206.34"/>
<path d="M443.31 203.34H449.31M446.31 200.34V206.34"/>
<path d="M450.28 203.34H456.28M453.28 200.34V206.34"/>
<path d="M457.25 203.34H463.25M460.25 200.34V206.34"/>
<path d="M464.23 203.34H470.23M467.23 200.34V206.34"/>
<path d="M471.20 203.34H477.20M474.20 200.34V206.34"/>
<path d="M478.17 203.34H484.17M481.17 200.34V206.34"/>
<path d="M485.15 203.34H491.15M488.15 200.34V206.34"/>
<path d="M492.12 203.34H498.12M495.12 200.34V206.34"/>
<path d="M499.09 203.34H505.09M502.09 200.34V206.34"/>
<path d="M506.07 203.34H512.07M509.07 200.34V206.34"/>
<path d="M513.04 203.34H519.04M516.04 200.34V206.34"/>
<path d="M520.01 203.34H526.01M523.01 200.34V206.34"/>
<path d="M526.99 203.34H532.99M529.99 200.34V206.34"/>
<path d="M533.96 203.34H539.96M536.96 200.34V206.34"/>
<path d="M540.93 203.34H546.93M543.93 200.34V206.34"/>
<path d="M547.91 203.34H553.91M550.91 200.34V206.34"/>
<path d="M554.88 203.34H560.88M557.88 200.34V206.34"/>
<path d="M561.85 203.34H567.85M564.85 200.34V206.34"/>
<path d="M568.83 203.34H574.83M571.83 200.34V206.34"/>
<path d="M575.80 203.34H581.80M578.80 200.34V206.34"/>
<path d="M582.77 203.34H588.77M585.77 200.34V206.34"/>
<path d="M589.75 203.34H595.75M592.75 200.34V206.34"/>
<path d="M596.72 203.34H602.72M599.72 200.34V206.34"/>
<path d="M603.69 203.34H609.69M606.69 200.34V206.34"/>
<path d="M610.67 203.34H616.67M613.67 200.34V206.34"/>
<path d="M617.64 203.34H623.64M620.64 200.34V206.34"/>
<path d="M624.61 203.34H630.61M627.61 200.34V206.34"/>
<path d="M631.59 203.34H637.59M634.59 200.34V206.34"/>
<path d="M638.56 203.34H644.56M641.56 200.34V206.34"/>
<path d="M645.53 203.34H651.53M648.53 200.34V206.34"/>
<path d="M652.51 203.34H658.51M655.51 200.34V206.34"/>
</g>
<polyline points="376.57,192.24 383.55,192.24 390.52,192.24 397.49,192.24 404.47,192.24 411.44,192.24 418.41,192.24 425.39,192.24 432.36,192.24 439.33,192.24 446.31,192.24 453.28,192.24 460.25,192.24 467.23,192.24 474.20,192.24 481.17,192.24 488.15,192.24 495.12,192.24 502.09,192.24 509.07,192.24 516.04,192.24 523.01,192.24 529.99,192.24 536.96,192.24 543.93,192.24 550.91,192.24 557.88,192.24 564.85,192.24 571.83,192.24 578.80,192.24 585.77,192.24 592.75,192.24 599.72,192.24 606.69,192.24 613.67,192.24 620.64,192.24 627.61,192.24 634.59,192.24 641.56,192.24 648.53,192.24 655.51,192.24" fill="none" stroke="#00ffff" stroke-width="1.0" stroke-dasharray="4.1 3.4" clip-path="url(#cr)"/>
<g fill="none" stroke="#00ffff" stroke-width="1.15">
<path d="M373.07 190.34L380.07 190.34L376.57 195.94Z"/>
<path d="M380.05 190.34L387.05 190.34L383.55 195.94Z"/>
<path d="M387.02 190.34L394.02 190.34L390.52 195.94Z"/>
<path d="M393.99 190.34L400.99 190.34L397.49 195.94Z"/>
<path d="M400.97 190.34L407.97 190.34L404.47 195.94Z"/>
<path d="M407.94 190.34L414.94 190.34L411.44 195.94Z"/>
<path d="M414.91 190.34L421.91 190.34L418.41 195.94Z"/>
<path d="M421.89 190.34L428.89 190.34L425.39 195.94Z"/>
<path d="M428.86 190.34L435.86 190.34L432.36 195.94Z"/>
<path d="M435.83 190.34L442.83 190.34L439.33 195.94Z"/>
<path d="M442.81 190.34L449.81 190.34L446.31 195.94Z"/>
<path d="M449.78 190.34L456.78 190.34L453.28 195.94Z"/>
<path d="M456.75 190.34L463.75 190.34L460.25 195.94Z"/>
<path d="M463.73 190.34L470.73 190.34L467.23 195.94Z"/>
<path d="M470.70 190.34L477.70 190.34L474.20 195.94Z"/>
<path d="M477.67 190.34L484.67 190.34L481.17 195.94Z"/>
<path d="M484.65 190.34L491.65 190.34L488.15 195.94Z"/>
<path d="M491.62 190.34L498.62 190.34L495.12 195.94Z"/>
<path d="M498.59 190.34L505.59 190.34L502.09 195.94Z"/>
<path d="M505.57 190.34L512.57 190.34L509.07 195.94Z"/>
<path d="M512.54 190.34L519.54 190.34L516.04 195.94Z"/>
<path d="M519.51 190.34L526.51 190.34L523.01 195.94Z"/>
<path d="M526.49 190.34L533.49 190.34L529.99 195.94Z"/>
<path d="M533.46 190.34L540.46 190.34L536.96 195.94Z"/>
<path d="M540.43 190.34L547.43 190.34L543.93 195.94Z"/>
<path d="M547.41 190.34L554.41 190.34L550.91 195.94Z"/>
<path d="M554.38 190.34L561.38 190.34L557.88 195.94Z"/>
<path d="M561.35 190.34L568.35 190.34L564.85 195.94Z"/>
<path d="M568.33 190.34L575.33 190.34L571.83 195.94Z"/>
<path d="M575.30 190.34L582.30 190.34L578.80 195.94Z"/>
<path d="M582.27 190.34L589.27 190.34L585.77 195.94Z"/>
<path d="M589.25 190.34L596.25 190.34L592.75 195.94Z"/>
<path d="M596.22 190.34L603.22 190.34L599.72 195.94Z"/>
<path d="M603.19 190.34L610.19 190.34L606.69 195.94Z"/>
<path d="M610.17 190.34L617.17 190.34L613.67 195.94Z"/>
<path d="M617.14 190.34L624.14 190.34L620.64 195.94Z"/>
<path d="M624.11 190.34L631.11 190.34L627.61 195.94Z"/>
<path d="M631.09 190.34L638.09 190.34L634.59 195.94Z"/>
<path d="M638.06 190.34L645.06 190.34L641.56 195.94Z"/>
<path d="M645.03 190.34L652.03 190.34L648.53 195.94Z"/>
<path d="M652.01 190.34L659.01 190.34L655.51 195.94Z"/>
</g>
<g fill="#262626">
<text transform="translate(11.40 12.35) scale(1.0 1.08)" font-size="10.6px" style="stroke:none">×</text>
<text transform="translate(18.00 11.50) scale(1.0 1.08)" font-size="9.5px">10</text>
<text transform="translate(29.00 6.70) scale(1.0 1.08)" font-size="7.6px">11</text>
<text transform="translate(370.50 12.35) scale(1.0 1.08)" font-size="10.6px" style="stroke:none">×</text>
<text transform="translate(377.10 11.50) scale(1.0 1.08)" font-size="9.5px">10</text>
<text transform="translate(388.10 6.70) scale(1.0 1.08)" font-size="7.6px">4</text>
</g>
<rect x="232.5" y="21.0" width="84.0" height="73.5" fill="#fff" stroke="#868686" stroke-width="1"/>
<line x1="235.25" y1="28.00" x2="264.40" y2="28.00" stroke="#ffff00" stroke-width="1.0"/>
<g fill="none" stroke="#ffff00" stroke-width="1.15"><path d="M248.05 24.30L253.60 28.00L248.05 31.70Z"/></g>
<text transform="translate(266.80 31.70) scale(1.0 1.08)" font-size="8.7px" fill="#000">HCOA</text>
<line x1="235.25" y1="39.93" x2="264.40" y2="39.93" stroke="#000000" stroke-width="1.0"/>
<g fill="none" stroke="#000000" stroke-width="1.15"><path d="M249.90 36.23L253.10 39.93L249.90 43.63L246.70 39.93Z"/></g>
<text transform="translate(266.80 43.63) scale(1.0 1.08)" font-size="8.7px" fill="#000">BBPSO</text>
<line x1="235.25" y1="51.86" x2="264.40" y2="51.86" stroke="#00ff00" stroke-width="1.0"/>
<g fill="none" stroke="#00ff00" stroke-width="1.15"><ellipse cx="249.90" cy="51.86" rx="2.8" ry="3.0" stroke-width="0.9"/></g>
<text transform="translate(266.80 55.56) scale(1.0 1.08)" font-size="8.7px" fill="#000">PBBPSO</text>
<line x1="235.25" y1="63.79" x2="264.40" y2="63.79" stroke="#0000ff" stroke-width="1.0"/>
<g fill="none" stroke="#0000ff" stroke-width="1.15"><path d="M247.20 63.79H252.60M249.90 61.09V66.49M247.90 61.79L251.90 65.79M247.90 65.79L251.90 61.79"/></g>
<text transform="translate(266.80 67.49) scale(1.0 1.08)" font-size="8.7px" fill="#000">DLSBBPSO</text>
<line x1="235.25" y1="75.72" x2="264.40" y2="75.72" stroke="#ff0000" stroke-width="1.0" stroke-dasharray="4.1 3.4"/>
<g fill="none" stroke="#ff0000" stroke-width="1.15"><path d="M246.90 75.72H252.90M249.90 72.72V78.72"/></g>
<text transform="translate(266.80 79.42) scale(1.0 1.08)" font-size="8.7px" fill="#000">TBBPSO</text>
<line x1="235.25" y1="87.65" x2="264.40" y2="87.65" stroke="#00ffff" stroke-width="1.0" stroke-dasharray="4.1 3.4"/>
<g fill="none" stroke="#00ffff" stroke-width="1.15"><path d="M246.40 85.75L253.40 85.75L249.90 91.35Z"/></g>
<text transform="translate(266.80 91.35) scale(1.0 1.08)" font-size="8.7px" fill="#000">ETBBPSO</text>
<rect x="591.8" y="20.8" width="83.7" height="73.7" fill="#fff" stroke="#868686" stroke-width="1"/>
<line x1="594.55" y1="28.00" x2="623.70" y2="28.00" stroke="#ffff00" stroke-width="1.0"/>
<g fill="none" stroke="#ffff00" stroke-width="1.15"><path d="M607.35 24.30L612.90 28.00L607.35 31.70Z"/></g>
<text transform="translate(626.10 31.70) scale(1.0 1.08)" font-size="8.7px" fill="#000">HCOA</text>
<line x1="594.55" y1="39.93" x2="623.70" y2="39.93" stroke="#000000" stroke-width="1.0"/>
<g fill="none" stroke="#000000" stroke-width="1.15"><path d="M609.20 36.23L612.40 39.93L609.20 43.63L606.00 39.93Z"/></g>
<text transform="translate(626.10 43.63) scale(1.0 1.08)" font-size="8.7px" fill="#000">BBPSO</text>
<line x1="594.55" y1="51.86" x2="623.70" y2="51.86" stroke="#00ff00" stroke-width="1.0"/>
<g fill="none" stroke="#00ff00" stroke-width="1.15"><ellipse cx="609.20" cy="51.86" rx="2.8" ry="3.0" stroke-width="0.9"/></g>
<text transform="translate(626.10 55.56) scale(1.0 1.08)" font-size="8.7px" fill="#000">PBBPSO</text>
<line x1="594.55" y1="63.79" x2="623.70" y2="63.79" stroke="#0000ff" stroke-width="1.0"/>
<g fill="none" stroke="#0000ff" stroke-width="1.15"><path d="M606.50 63.79H611.90M609.20 61.09V66.49M607.20 61.79L611.20 65.79M607.20 65.79L611.20 61.79"/></g>
<text transform="translate(626.10 67.49) scale(1.0 1.08)" font-size="8.7px" fill="#000">DLSBBPSO</text>
<line x1="594.55" y1="75.72" x2="623.70" y2="75.72" stroke="#ff0000" stroke-width="1.0" stroke-dasharray="4.1 3.4"/>
<g fill="none" stroke="#ff0000" stroke-width="1.15"><path d="M606.20 75.72H612.20M609.20 72.72V78.72"/></g>
<text transform="translate(626.10 79.42) scale(1.0 1.08)" font-size="8.7px" fill="#000">TBBPSO</text>
<line x1="594.55" y1="87.65" x2="623.70" y2="87.65" stroke="#00ffff" stroke-width="1.0" stroke-dasharray="4.1 3.4"/>
<g fill="none" stroke="#00ffff" stroke-width="1.15"><path d="M605.70 85.75L612.70 85.75L609.20 91.35Z"/></g>
<text transform="translate(626.10 91.35) scale(1.0 1.08)" font-size="8.7px" fill="#000">ETBBPSO</text>
<g fill="#000" font-size="10.2px" text-anchor="middle">
<text transform="translate(166.97 287.30) scale(1.0 1.08)">(a)</text>
<text transform="translate(526.50 287.30) scale(1.0 1.08)">(b)</text>
</g>
</g></svg></body></html>
